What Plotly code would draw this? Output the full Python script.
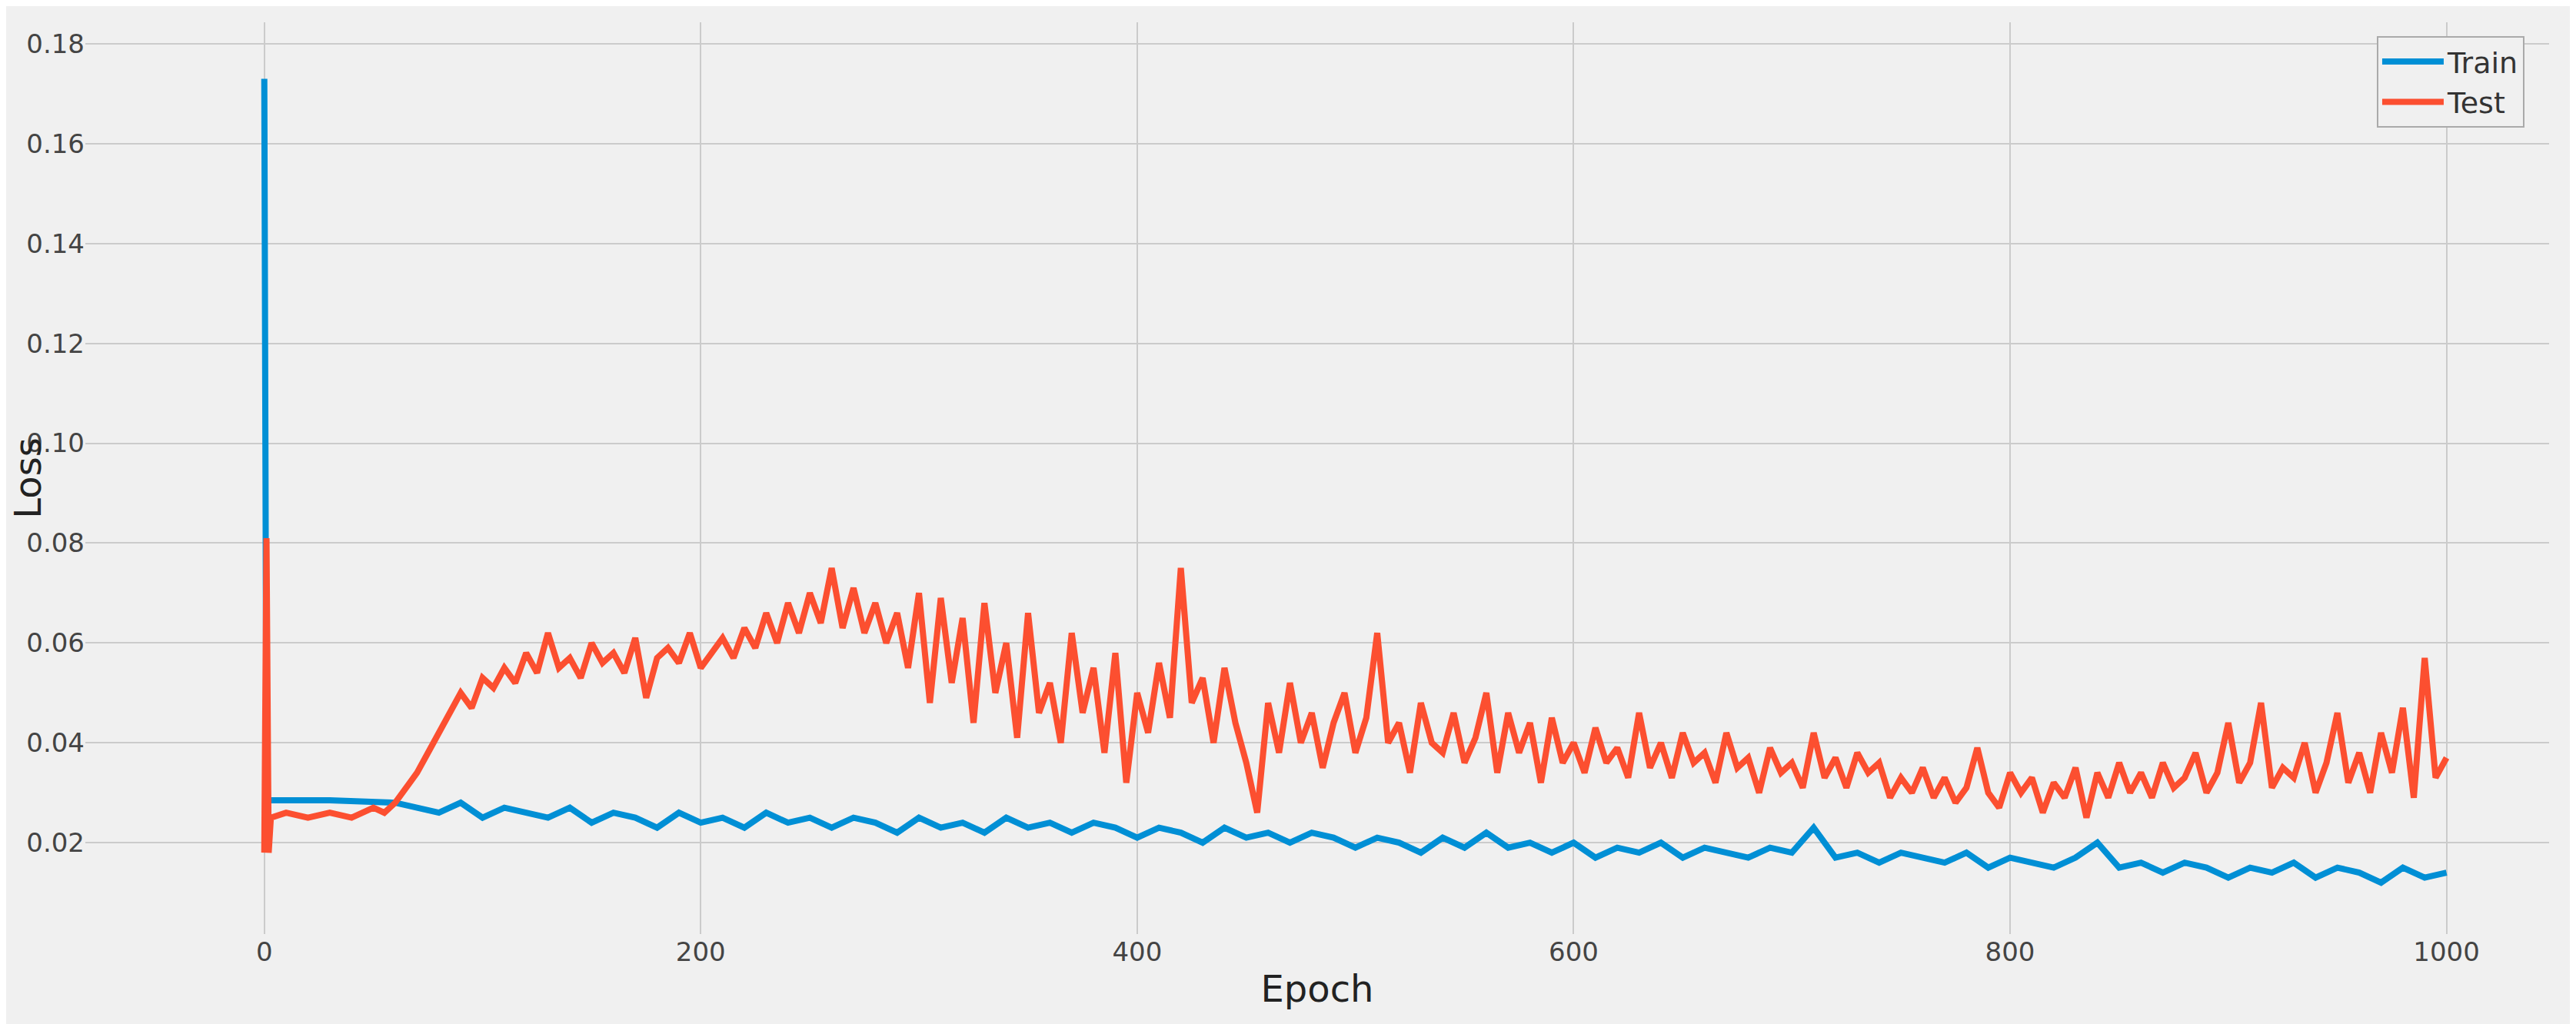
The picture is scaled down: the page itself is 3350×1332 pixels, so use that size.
import plotly.graph_objects as go

train_epochs = [0, 1, 2, 30, 60] + list(range(70, 1001, 10))
train_loss = [0.173, 0.029, 0.0285, 0.0285, 0.028,
              0.027, 0.026, 0.028, 0.025, 0.027, 0.026, 0.025, 0.027, 0.024, 0.026,
              0.025, 0.023, 0.026, 0.024, 0.025, 0.023, 0.026, 0.024, 0.025, 0.023,
              0.025, 0.024, 0.022, 0.025, 0.023, 0.024, 0.022, 0.025, 0.023, 0.024,
              0.022, 0.024, 0.023, 0.021, 0.023, 0.022, 0.020, 0.023, 0.021, 0.022,
              0.020, 0.022, 0.021, 0.019, 0.021, 0.020, 0.018, 0.021, 0.019, 0.022,
              0.019, 0.020, 0.018, 0.020, 0.017, 0.019, 0.018, 0.020, 0.017, 0.019,
              0.018, 0.017, 0.019, 0.018, 0.023, 0.017, 0.018, 0.016, 0.018, 0.017,
              0.016, 0.018, 0.015, 0.017, 0.016, 0.015, 0.017, 0.020, 0.015, 0.016,
              0.014, 0.016, 0.015, 0.013, 0.015, 0.014, 0.016, 0.013, 0.015, 0.014,
              0.012, 0.015, 0.013, 0.014]

test_epochs = [0, 1, 2, 3, 10, 20, 30, 40, 50, 55] + list(range(60, 1001, 5))
test_loss = [0.018, 0.081, 0.018, 0.025, 0.026, 0.025, 0.026, 0.025, 0.027, 0.026,
             0.028, 0.031, 0.034, 0.038, 0.042, 0.046, 0.050, 0.047, 0.053, 0.051, 0.055, 0.052, 0.058, 0.054, 0.062, 0.055, 0.057, 0.053, 0.060, 0.056,
             0.058, 0.054, 0.061, 0.049, 0.057, 0.059, 0.056, 0.062, 0.055, 0.058, 0.061, 0.057, 0.063, 0.059, 0.066, 0.060, 0.068, 0.062, 0.070, 0.064,
             0.075, 0.063, 0.071, 0.062, 0.068, 0.060, 0.066, 0.055, 0.070, 0.048, 0.069, 0.052, 0.065, 0.044, 0.068, 0.050, 0.060, 0.041, 0.066, 0.046,
             0.052, 0.040, 0.062, 0.046, 0.055, 0.038, 0.058, 0.032, 0.050, 0.042, 0.056, 0.045, 0.075, 0.048, 0.053, 0.040, 0.055, 0.044, 0.036, 0.026,
             0.048, 0.038, 0.052, 0.040, 0.046, 0.035, 0.044, 0.050, 0.038, 0.045, 0.062, 0.040, 0.044, 0.034, 0.048, 0.040, 0.038, 0.046, 0.036, 0.041,
             0.050, 0.034, 0.046, 0.038, 0.044, 0.032, 0.045, 0.036, 0.040, 0.034, 0.043, 0.036, 0.039, 0.033, 0.046, 0.035, 0.040, 0.033, 0.042, 0.036,
             0.038, 0.032, 0.042, 0.035, 0.037, 0.030, 0.039, 0.034, 0.036, 0.031, 0.042, 0.033, 0.037, 0.031, 0.038, 0.034, 0.036, 0.029, 0.033, 0.030,
             0.035, 0.029, 0.033, 0.028, 0.031, 0.039, 0.030, 0.027, 0.034, 0.030, 0.033, 0.026, 0.032, 0.029, 0.035, 0.025, 0.034, 0.029, 0.036, 0.030,
             0.034, 0.029, 0.036, 0.031, 0.033, 0.038, 0.030, 0.034, 0.044, 0.032, 0.036, 0.048, 0.031, 0.035, 0.033, 0.040, 0.030, 0.036, 0.046, 0.032,
             0.038, 0.030, 0.042, 0.034, 0.047, 0.029, 0.057, 0.033, 0.037]

y_ticks = [0.02, 0.04, 0.06, 0.08, 0.10, 0.12, 0.14, 0.16, 0.18]

fig = go.Figure()
fig.add_trace(go.Scatter(x=train_epochs, y=train_loss, mode="lines", name="Train",
                         line=dict(color="#008fd5", width=8)))
fig.add_trace(go.Scatter(x=test_epochs, y=test_loss, mode="lines", name="Test",
                         line=dict(color="#fc4f30", width=8)))

axis_common = dict(showgrid=True, gridcolor="#cbcbcb", gridwidth=2, zeroline=False,
                   showline=False, ticks="", automargin=False,
                   tickfont=dict(size=34, color="#444"))
fig.update_layout(
    width=3350, height=1332,
    paper_bgcolor="#f0f0f0", plot_bgcolor="#f0f0f0",
    font=dict(family="DejaVu Sans", color="#222"),
    margin=dict(l=103, r=43, t=21, b=125),
    xaxis=dict(range=[-82, 1047], tickvals=[0, 200, 400, 600, 800, 1000],
               title=dict(text="Epoch", font=dict(size=48), standoff=12), **axis_common),
    yaxis=dict(range=[0.0017, 0.1843], tickvals=y_ticks, tickformat=".2f",
               title=dict(text="Loss", font=dict(size=48), standoff=8), **axis_common),
    legend=dict(x=0.99, y=0.985, xanchor="right", yanchor="top",
                bgcolor="#f0f0f0", bordercolor="#aaaaaa", borderwidth=2,
                itemwidth=80, tracegroupgap=10,
                font=dict(size=38, color="#333")),
)

fig.write_html("out.html")
